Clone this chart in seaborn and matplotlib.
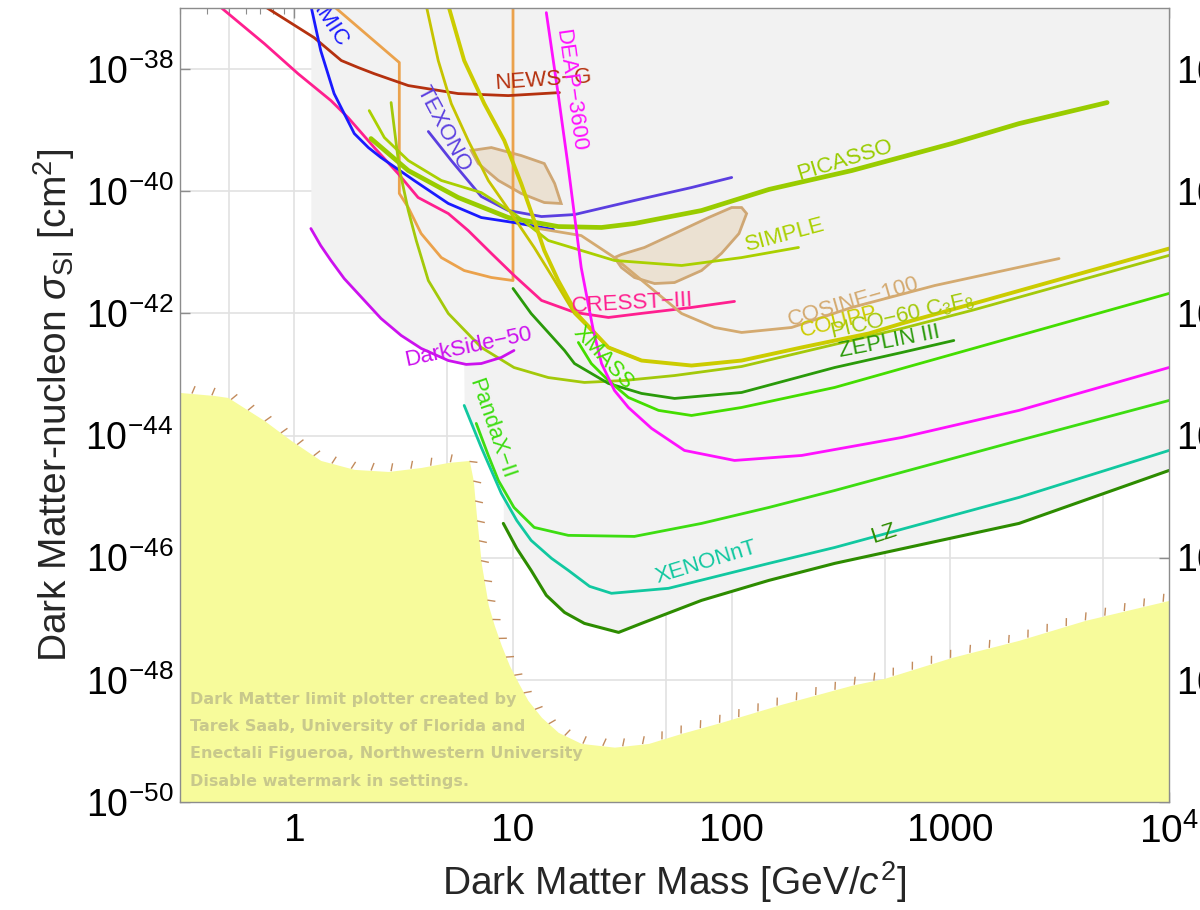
import warnings
import numpy as np
import matplotlib
matplotlib.use("Agg")
import matplotlib.pyplot as plt
from matplotlib.collections import LineCollection
from matplotlib.ticker import LogLocator, NullFormatter, NullLocator
import seaborn as sns

# ---------------------------------------------------------------------------
# Spin-independent WIMP-nucleon limits: mass [GeV/c^2] vs cross section [cm^2]
# ---------------------------------------------------------------------------
cresst_mass = [0.45, 0.73, 1.04, 1.47, 1.76, 2.32, 2.98, 3.68, 5.06, 6.24, 7.96, 10.1, 13.5, 19.1, 27.3, 38.7, 65.5, 103]
cresst_sigma = [1.1e-37, 2.6e-38, 8.4e-39, 3.05e-39, 1.61e-39, 5.19e-40, 1.95e-40, 7.9e-41, 4.31e-41, 2.27e-41,
                9.6e-42, 4.2e-42, 1.63e-42, 1.04e-42, 8.57e-43, 1.0e-42, 1.25e-42, 1.57e-42]

damic_mass = [1.19, 1.32, 1.52, 1.69, 1.88, 2.18, 2.49, 3.53, 5.06, 7.16, 10.1, 15.3]
damic_sigma = [1.1e-37, 2.01e-38, 3.97e-39, 1.87e-39, 8.8e-40, 5.19e-40, 3.56e-40, 1.50e-40, 6.3e-41, 3.71e-41,
               3.07e-41, 2.36e-41]

newsg_mass = [0.72, 1.23, 1.64, 1.96, 2.32, 3.32, 5.61, 9.51, 16.3]
newsg_sigma = [1.1e-37, 3.28e-38, 1.38e-38, 1.06e-38, 8.4e-39, 5.37e-39, 3.97e-39, 3.68e-39, 4.12e-39]

outline_mass = [1.50, 3.02, 3.02, 3.32, 3.80, 4.70, 5.98, 7.96, 10.0, 10.0]
outline_sigma = [1.1e-37, 1.28e-38, 9.2e-41, 5.41e-41, 2.03e-41, 8.2e-42, 5.03e-42, 3.87e-42, 3.45e-42, 1.1e-37]

texono_mass = [4.10, 5.22, 7.16, 9.51, 13.5, 19.1, 35.9, 65.5, 100]
texono_sigma = [9.5e-40, 3.18e-40, 8.2e-41, 4.83e-41, 3.85e-41, 4.15e-41, 7.05e-41, 1.15e-40, 1.68e-40]

picasso_mass = [2.24, 3.32, 5.61, 9.51, 16.1, 25.4, 35.9, 72.8, 148, 354, 1016, 2060, 5210]
picasso_sigma = [7.29e-40, 2.18e-40, 7.9e-41, 3.71e-41, 2.64e-41, 2.55e-41, 2.96e-41, 4.83e-41, 1.07e-40,
                 2.18e-40, 6.04e-40, 1.28e-39, 2.83e-39]

simple_mass = [2.20, 2.58, 3.32, 4.70, 7.16, 10.1, 14.5, 29.1, 59.0, 111, 202]
simple_sigma = [2.09e-39, 7.57e-40, 3.18e-40, 1.50e-40, 9.5e-41, 4.31e-41, 1.56e-41, 7.35e-42, 6.08e-42, 8.2e-42, 1.20e-41]

pico_c3f8_mass = [2.77, 3.02, 3.32, 3.61, 4.10, 5.06, 7.16, 10.1, 14.5, 21.2, 32.3, 54.8, 111, 600, 1254, 10000]
pico_c3f8_sigma = [2.83e-39, 2.35e-40, 4.83e-41, 1.56e-41, 3.45e-42, 9.96e-43, 2.77e-43, 1.30e-43, 8.9e-44, 7.4e-44,
                   7.97e-44, 9.6e-44, 1.35e-43, 5.66e-43, 1.12e-42, 8.9e-42]

coupp_mass = [5.06, 5.98, 7.39, 9.12, 10.9, 12.5, 13.9, 16.1, 19.5, 27.3, 38.7, 65.5, 111, 209, 424, 600, 1437, 10000]
coupp_sigma = [1.1e-37, 1.38e-38, 2.72e-39, 6.76e-40, 1.34e-40, 3.31e-41, 1.07e-41, 3.45e-42, 9.96e-43, 2.77e-43,
               1.69e-43, 1.40e-43, 1.69e-43, 2.77e-43, 4.69e-43, 6.84e-43, 1.63e-42, 1.15e-41]

pico_cf3i_mass = [4.01, 4.55, 5.22, 6.24, 7.71, 9.82, 12.5, 15.5, 19.1, 27.3, 38.7]
pico_cf3i_sigma = [1.1e-37, 1.38e-38, 2.72e-39, 6.76e-40, 1.50e-40, 4.31e-41, 1.20e-41, 3.45e-42, 9.96e-43, 2.77e-43, 1.69e-43]

zeplin_mass = [10.0, 12.1, 17.2, 19.1, 27.3, 38.7, 54.8, 111, 296, 600, 1037]
zeplin_sigma = [2.56e-42, 9.96e-43, 2.47e-43, 1.51e-43, 7.13e-44, 4.89e-44, 4.05e-44, 5.07e-44, 1.30e-43, 2.29e-43, 3.6e-43]

xmass_mass = [19.9, 22.8, 27.3, 33.7, 46.3, 65.5, 111, 296, 600, 10000]
xmass_sigma = [3.34e-43, 1.51e-43, 7.97e-44, 4.2e-44, 2.58e-44, 2.13e-44, 2.88e-44, 6.13e-44, 1.25e-43, 2.12e-42]

pandax_mass = [6.79, 7.71, 8.57, 10.1, 12.5, 17.9, 35.9, 72.8, 148, 296, 2060, 10000]
pandax_sigma = [1.58e-44, 4.72e-45, 1.84e-45, 6.65e-46, 3.13e-46, 2.32e-46, 2.23e-46, 3.64e-46, 6.65e-46, 1.26e-45,
                8.3e-45, 3.75e-44]

xenonnt_mass = [5.98, 7.16, 8.84, 10.4, 12.1, 15.0, 17.9, 22.4, 28.2, 51.4, 148, 296, 2060, 10000]
xenonnt_sigma = [3.11e-44, 6.39e-45, 1.13e-45, 4.07e-46, 1.92e-46, 9.75e-47, 6.2e-47, 3.39e-47, 2.61e-47, 3.15e-47,
                 8.07e-47, 1.47e-46, 9.7e-46, 5.7e-45]

lz_mass = [9.03, 10.4, 12.1, 14.2, 17.2, 21.2, 30.4, 38.7, 72.8, 148, 296, 2060, 10000]
lz_sigma = [3.64e-46, 1.42e-46, 6.2e-47, 2.42e-47, 1.27e-47, 8.4e-48, 5.98e-48, 8.4e-48, 2.0e-47, 4.25e-47, 8.07e-47,
            3.64e-46, 2.68e-45]

deap_mass = [14.2, 16.0, 17.9, 20.5, 23.3, 25.4, 29.1, 33.7, 43.0, 60.8, 103, 209, 424, 600, 2060, 10000]
deap_sigma = [8.4e-38, 4.45e-39, 2.44e-40, 5.64e-42, 5.25e-43, 1.51e-43, 5.47e-44, 2.88e-44, 1.31e-44, 5.7e-45,
              3.91e-45, 4.72e-45, 7.43e-45, 9.3e-45, 2.58e-44, 1.30e-43]

darkside_mass = [1.19, 1.32, 1.47, 1.69, 2.09, 2.49, 3.08, 3.80, 5.06, 6.11, 7.16, 8.84, 10.1]
darkside_sigma = [2.45e-41, 1.29e-41, 7.35e-42, 3.72e-42, 1.63e-42, 8.26e-43, 4.35e-43, 2.67e-43, 1.69e-43, 1.46e-43,
                  1.51e-43, 1.9e-43, 2.47e-43]

cosine_mass = [13.1, 20.5, 29.1, 59.0, 83.5, 111, 188, 354, 849, 3140]
cosine_sigma = [2.45e-41, 1.88e-41, 8.2e-42, 9.96e-43, 5.88e-43, 4.87e-43, 5.88e-43, 1.25e-42, 2.86e-42, 7.9e-42]

# Annual-modulation signal regions (closed contours)
dama_na_mass = [6.44, 7.96, 10.9, 13.9, 15.5, 16.6, 13.9, 10.9, 8.57, 6.94, 6.44]
dama_na_sigma = [4.64e-40, 5.19e-40, 3.84e-40, 2.84e-40, 1.34e-40, 6.3e-41, 6.53e-41, 9.2e-41, 1.50e-40, 2.84e-40, 4.64e-40]
dama_i_mass = [29.1, 31.3, 35.9, 44.4, 54.8, 72.8, 89.8, 108, 117, 111, 100, 78.4, 54.8, 39.9, 31.3, 29.1]
dama_i_sigma = [8.2e-42, 5.64e-42, 3.87e-42, 3.08e-42, 3.2e-42, 5.03e-42, 9.6e-42, 2.03e-41, 4.31e-41, 5.41e-41,
                5.41e-41, 3.71e-41, 2.03e-41, 1.20e-41, 9.2e-42, 8.2e-42]

# Neutrino background floor
floor_mass = [0.30, 0.429, 0.497, 0.727, 0.966, 1.32, 1.88, 2.69, 3.80, 5.06, 6.31, 6.58, 6.79, 7.16, 7.71, 8.21,
              8.84, 9.62, 10.6, 11.7, 13.5, 16.1, 20.5, 29.1, 41.7, 59.0, 89.8, 169, 354, 501, 1016, 2060, 4130, 10000]
floor_sigma = [5.07e-44, 4.53e-44, 4.2e-44, 1.77e-44, 8.3e-45, 3.91e-45, 2.79e-45, 2.58e-45, 3.0e-45, 3.63e-45,
               3.91e-45, 1.84e-45, 5.31e-46, 8.07e-47, 1.66e-47, 7.8e-48, 3.67e-48, 1.73e-48, 8.8e-49, 4.6e-49,
               2.43e-49, 1.38e-49, 9.1e-50, 7.9e-50, 9.1e-50, 1.33e-49, 2.02e-49, 3.98e-49, 8.15e-49, 1.06e-48,
               2.33e-48, 4.44e-48, 9.4e-48, 2.0e-47]

# Axis ticks and labels
xtick_values = [1, 10, 100, 1000, 10000]
xtick_labels = ["1", "10", "100", "1000", r"$10^{4}$"]
ytick_values = [1e-50, 1e-48, 1e-46, 1e-44, 1e-42, 1e-40, 1e-38]
ytick_labels = [r"$10^{-50}$", r"$10^{-48}$", r"$10^{-46}$", r"$10^{-44}$", r"$10^{-42}$", r"$10^{-40}$", r"$10^{-38}$"]
grid_mass = [0.5, 1, 5, 10, 50, 100, 500, 1000, 5000]
grid_sigma = [1e-48, 1e-46, 1e-44, 1e-42, 1e-40, 1e-38]

watermark_lines = ["Dark Matter limit plotter created by",
                   "Tarek Saab, University of Florida and",
                   "Enectali Figueroa, Northwestern University",
                   "Disable watermark in settings."]

# Curve styling
C_DAMIC, C_CRESST, C_NEWSG, C_OUTLINE = "#1a1aff", "#ff1f8f", "#b5310f", "#eba24c"
C_TEXONO, C_PICASSO, C_SIMPLE, C_PICO = "#5b3fe0", "#99cc00", "#aad000", "#a3c90a"
C_COUPP, C_CF3I, C_ZEPLIN, C_XMASS = "#cccc00", "#c6c400", "#2a9a0a", "#44dd00"
C_PANDAX, C_XENON, C_LZ, C_DEAP = "#3ddd11", "#11c8a0", "#2d8c00", "#ff11ff"
C_DARKSIDE, C_COSINE = "#cc11ee", "#d4aa70"

curves = [
    (outline_mass, outline_sigma, C_OUTLINE, 2.0),
    (cresst_mass, cresst_sigma, C_CRESST, 2.0),
    (newsg_mass, newsg_sigma, C_NEWSG, 2.0),
    (damic_mass, damic_sigma, C_DAMIC, 2.0),
    (texono_mass, texono_sigma, C_TEXONO, 2.0),
    (cosine_mass, cosine_sigma, C_COSINE, 2.0),
    (simple_mass, simple_sigma, C_SIMPLE, 2.0),
    (picasso_mass, picasso_sigma, C_PICASSO, 3.4),
    (pico_cf3i_mass, pico_cf3i_sigma, C_CF3I, 2.0),
    (coupp_mass, coupp_sigma, C_COUPP, 2.8),
    (pico_c3f8_mass, pico_c3f8_sigma, C_PICO, 2.0),
    (darkside_mass, darkside_sigma, C_DARKSIDE, 2.0),
    (zeplin_mass, zeplin_sigma, C_ZEPLIN, 2.0),
    (xmass_mass, xmass_sigma, C_XMASS, 2.0),
    (deap_mass, deap_sigma, C_DEAP, 2.0),
    (pandax_mass, pandax_sigma, C_PANDAX, 2.0),
    (xenonnt_mass, xenonnt_sigma, C_XENON, 2.0),
    (lz_mass, lz_sigma, C_LZ, 2.2),
]

# Curve labels: text, mass, sigma, rotation, colour
labels = [
    ("DAMIC", 1.35, 7.7e-38, -57, C_DAMIC),
    ("TEXONO", 4.80, 1.06e-39, -62, C_TEXONO),
    ("NEWS\u2212G", 13.8, 6.5e-39, 4, C_NEWSG),
    ("DEAP\u22123600", 18.3, 4.45e-39, -82, C_DEAP),
    ("PICASSO", 329, 3.18e-40, 17, C_PICASSO),
    ("SIMPLE", 175, 1.88e-41, 15, C_SIMPLE),
    ("CRESST\u2212III", 35.2, 1.45e-42, 3, C_CRESST),
    ("COSINE\u2212100", 361, 1.51e-42, 16, C_COSINE),
    ("COUPP", 309, 7.1e-43, 14, C_COUPP),
    ("PICO\u221260 C$_3$F$_8$", 606, 8.9e-43, 13, C_PICO),
    ("ZEPLIN III", 528, 3.47e-43, 11, C_ZEPLIN),
    ("DarkSide\u221250", 6.24, 2.77e-43, 12, C_DARKSIDE),
    ("XMASS", 25.9, 1.9e-43, -47, C_XMASS),
    ("PandaX\u2212II", 8.0, 1.31e-44, -71, C_PANDAX),
    ("XENONnT", 76.7, 8.4e-47, 17, C_XENON),
    ("LZ", 496, 2.49e-46, 18, C_LZ),
]

X_RANGE = (0.3, 1e4)
Y_RANGE = (1e-50, 1e-37)

# ---------------------------------------------------------------------------
sns.set_theme(style="white")
plt.rcParams["font.family"] = ["Liberation Sans", "DejaVu Sans"]
plt.rcParams["mathtext.fontset"] = "custom"
plt.rcParams["mathtext.rm"] = "Liberation Sans"
plt.rcParams["mathtext.it"] = "Liberation Sans:italic"
plt.rcParams["mathtext.bf"] = "Liberation Sans:bold"
plt.rcParams["axes.unicode_minus"] = True

fig = plt.figure(figsize=(12, 9.1), dpi=100)
ax = fig.add_axes([0.15, 0.1187, 0.8242, 0.8725])
ax.set_xscale("log")
ax.set_yscale("log")
ax.set_xlim(*X_RANGE)
ax.set_ylim(*Y_RANGE)
ax.set_facecolor("white")


def log_interp(xq, x, y):
    """Evaluate a limit curve in log-log space; NaN outside its mass range."""
    out = np.interp(np.log10(xq), np.log10(x), np.log10(y), left=np.nan, right=np.nan)
    return 10.0 ** out


# Light grid underneath everything
for gx in grid_mass:
    ax.axvline(gx, color="#e2e2e2", lw=1.2, zorder=0.5)
for gy in grid_sigma:
    ax.axhline(gy, color="#e2e2e2", lw=1.2, zorder=0.5)

# Combined excluded region: everything above the lowest limit
envelope_sets = [c for c in curves if c[0] is not outline_mass]
start = darkside_mass[0]
grid = list(np.logspace(np.log10(start), np.log10(X_RANGE[1]), 1500))
for m, s, _, _ in envelope_sets:
    for e in (m[0], m[0] * (1 + 1e-6), m[-1], m[-1] * (1 - 1e-6)):
        if start <= e <= X_RANGE[1]:
            grid.append(e)
grid = np.unique(grid)
with warnings.catch_warnings():
    warnings.simplefilter("ignore")
    env = np.nanmin(np.vstack([log_interp(grid, m, s) for m, s, _, _ in envelope_sets]), axis=0)
ax.fill_between(grid, env, Y_RANGE[1], color="#f2f2f2", lw=0, zorder=1)

# Neutrino floor
ax.fill_between(floor_mass, Y_RANGE[0] * 0.1, floor_sigma, color="#f7fb9b", lw=0, zorder=1.1)


def boundary_ticks(mass, sigma, spacing=20.0, length=8.0, tilt=18.0):
    """Short hatch marks along the outer side of a boundary, evenly spaced on screen."""
    pts = ax.transData.transform(np.column_stack([mass, sigma]))
    d = np.diff(pts, axis=0)
    seg = np.hypot(d[:, 0], d[:, 1])
    arc = np.concatenate([[0.0], np.cumsum(seg)])
    s = np.arange(spacing * 0.6, arc[-1], spacing)
    k = np.clip(np.searchsorted(arc, s) - 1, 0, len(seg) - 1)
    frac = (s - arc[k]) / seg[k]
    base = pts[k] + d[k] * frac[:, None]
    tang = d[k] / seg[k][:, None]
    normal = np.column_stack([-tang[:, 1], tang[:, 0]])
    a = np.deg2rad(-tilt)
    rot = np.array([[np.cos(a), -np.sin(a)], [np.sin(a), np.cos(a)]])
    normal = normal @ rot.T
    tip = base + normal * length
    inv = ax.transData.inverted()
    segs = [np.vstack([inv.transform(b), inv.transform(t)]) for b, t in zip(base, tip)]
    ax.add_collection(LineCollection(segs, colors="#c28b5c", linewidths=1.0, zorder=1.5))


boundary_ticks(floor_mass, floor_sigma)

# Signal regions
for m, s in ((dama_na_mass, dama_na_sigma), (dama_i_mass, dama_i_sigma)):
    ax.fill(m, s, facecolor="#ebe1d2", edgecolor="#cfa774", lw=2.0, zorder=2)

# Limit curves
for m, s, color, lw in curves:
    sns.lineplot(x=m, y=s, ax=ax, color=color, linewidth=lw, sort=False, estimator=None, zorder=3)

# Curve labels
for text, m, s, rot, color in labels:
    ax.text(m, s, text, color=color, fontsize=16, rotation=rot, rotation_mode="anchor",
            ha="center", va="center", zorder=4, clip_on=True)

# Watermark
wm_y = [0.1285, 0.0945, 0.0605, 0.0264]
for line, y in zip(watermark_lines, wm_y):
    ax.text(0.0101, y, line, transform=ax.transAxes, fontsize=11.5, fontweight="bold",
            family="DejaVu Sans", color="#c8c88c", ha="left", va="center", zorder=5)

# Axes, ticks and labels
ax.set_xticks(xtick_values)
ax.set_xticklabels(xtick_labels)
ax.xaxis.set_minor_locator(LogLocator(base=10, subs=np.arange(2, 10), numticks=30))
ax.xaxis.set_minor_formatter(NullFormatter())
ax.set_yticks(ytick_values)
ax.set_yticklabels(ytick_labels)
ax.yaxis.set_minor_locator(NullLocator())
ax.set_xlim(*X_RANGE)
ax.set_ylim(*Y_RANGE)

ax.tick_params(axis="both", which="both", direction="in", color="#8c8c8c", labelcolor="black")
ax.tick_params(axis="x", which="major", length=7, width=1, top=True, bottom=True, labelsize=28, pad=8)
ax.tick_params(axis="x", which="minor", length=4, width=0.8, top=True, bottom=True)
ax.tick_params(axis="y", which="major", length=7, width=1, left=True, right=True,
               labelleft=True, labelright=True, labelsize=27, pad=5)
# The bottom-right corner carries the mass label only
ax.yaxis.get_major_ticks()[0].label2.set_visible(False)
for sp in ax.spines.values():
    sp.set_color("#8c8c8c")
    sp.set_linewidth(1.0)
    sp.set_zorder(6)

ax.set_xlabel(r"Dark Matter Mass [GeV/$c^2$]", fontsize=28, labelpad=6)
ax.set_ylabel(r"Dark Matter-nucleon $\sigma_{\mathrm{SI}}$ [cm$^2$]", fontsize=28, labelpad=6)

fig.savefig("out.png", dpi=100)
